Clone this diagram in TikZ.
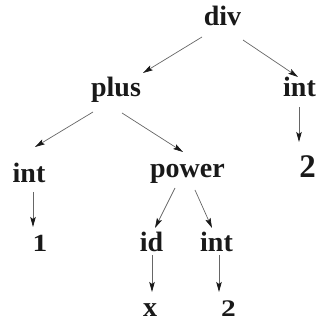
\documentclass[tikz,border=0pt]{standalone}
\usepackage{fontspec}
\setmainfont{Liberation Serif}
\usetikzlibrary{arrows.meta}
\begin{document}
\begin{tikzpicture}[x=1pt,y=1pt,
  lbl/.style={anchor=base,inner sep=0pt,font=\fontsize{28}{30}\selectfont\bfseries,text=black!90},
  arr/.style={draw=black!60,line width=0.7pt,-{Stealth[length=10pt,width=5.5pt,inset=2pt,color=black!90]}}]
\useasboundingbox (0,0) rectangle (324,324);
% nodes
\node[lbl] (div)   at (222.5,298) {div};
\node[lbl] (plus)  at (116,227)   {plus};
\node[lbl] (intR)  at (299.5,227) {int};
\node[lbl] (intL)  at (29,141)    {int};
\node[lbl] (power) at (187.5,146) {power};
\node[lbl] (twoR)  at (307.5,146) {\fontsize{33}{35}\selectfont 2};
\node[lbl] (one)   at (40,72)     {\scalebox{1.05}[0.88]{1}};
\node[lbl] (id)    at (151.5,72)  {id};
\node[lbl] (intB)  at (216.5,72)  {int};
\node[lbl] (xx)    at (150,7)     {x};
\node[lbl] (twoB)  at (228.5,7)   {\scalebox{1.05}[0.85]{2}};
% connectors
\draw[arr] ([shift={(-20.5,-11)}]div.base) -- ([shift={(27,24)}]plus.base);
\draw[arr] ([shift={(20.5,-14)}]div.base) -- ([shift={(-1.5,20)}]intR.base);
\draw[arr] ([shift={(-23,-15)}]plus.base) -- ([shift={(6,36)}]intL.base);
\draw[arr] ([shift={(6,-16)}]plus.base) -- ([shift={(-4.5,26)}]power.base);
\draw[arr] ([shift={(-0.5,-10)}]intR.base) -- ([shift={(-8.5,36)}]twoR.base);
\draw[arr] ([shift={(4,-9)}]intL.base) -- ([shift={(-7,25)}]one.base);
\draw[arr] ([shift={(-12.5,-10)}]power.base) -- ([shift={(3.5,24)}]id.base);
\draw[arr] ([shift={(7.5,-12)}]power.base) -- ([shift={(-4.5,24)}]intB.base);
\draw[arr] ([shift={(0.5,-3)}]id.base) -- ([shift={(2,25)}]xx.base);
\draw[arr] ([shift={(2.5,-3)}]intB.base) -- ([shift={(-9.5,25)}]twoB.base);
\end{tikzpicture}
\end{document}
